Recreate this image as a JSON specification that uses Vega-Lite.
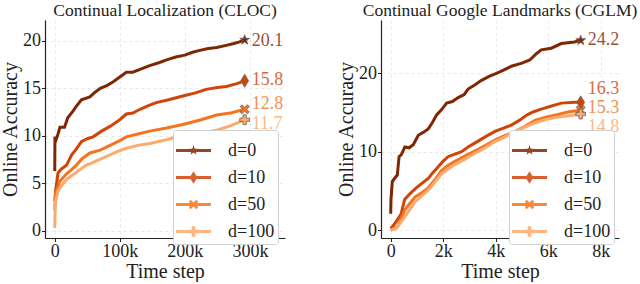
{
  "$schema": "https://vega.github.io/schema/vega-lite/v6.json",
  "padding": {"left": 0, "top": 1, "right": 0, "bottom": 0},
  "datasets": {
    "cloc": [
      {"d": "0", "t": 0, "acc": 6.3}, {"d": "0", "t": 300, "acc": 9.9}, {"d": "0", "t": 2000, "acc": 9.6}, {"d": "0", "t": 5000, "acc": 10.2}, {"d": "0", "t": 8000, "acc": 10.9}, {"d": "0", "t": 15000, "acc": 10.9}, {"d": "0", "t": 20000, "acc": 11.9}, {"d": "0", "t": 28000, "acc": 12.6}, {"d": "0", "t": 33000, "acc": 13.1}, {"d": "0", "t": 41000, "acc": 13.8}, {"d": "0", "t": 54000, "acc": 14.1}, {"d": "0", "t": 62000, "acc": 14.6}, {"d": "0", "t": 70000, "acc": 15.0}, {"d": "0", "t": 80000, "acc": 15.3}, {"d": "0", "t": 90000, "acc": 15.7}, {"d": "0", "t": 100000, "acc": 16.2}, {"d": "0", "t": 110000, "acc": 16.7}, {"d": "0", "t": 120000, "acc": 16.7}, {"d": "0", "t": 135000, "acc": 17.1}, {"d": "0", "t": 146000, "acc": 17.4}, {"d": "0", "t": 160000, "acc": 17.7}, {"d": "0", "t": 172000, "acc": 18.0}, {"d": "0", "t": 186000, "acc": 18.3}, {"d": "0", "t": 200000, "acc": 18.5}, {"d": "0", "t": 212000, "acc": 18.8}, {"d": "0", "t": 223000, "acc": 19.0}, {"d": "0", "t": 236000, "acc": 19.2}, {"d": "0", "t": 249000, "acc": 19.3}, {"d": "0", "t": 262000, "acc": 19.5}, {"d": "0", "t": 274000, "acc": 19.7}, {"d": "0", "t": 284000, "acc": 19.9}, {"d": "0", "t": 292000, "acc": 20.1},
      {"d": "10", "t": 0, "acc": 3.1}, {"d": "10", "t": 1500, "acc": 4.3}, {"d": "10", "t": 5000, "acc": 6.1}, {"d": "10", "t": 10000, "acc": 6.5}, {"d": "10", "t": 18000, "acc": 6.9}, {"d": "10", "t": 26000, "acc": 8.0}, {"d": "10", "t": 33000, "acc": 8.6}, {"d": "10", "t": 41000, "acc": 9.4}, {"d": "10", "t": 50000, "acc": 9.7}, {"d": "10", "t": 59000, "acc": 9.9}, {"d": "10", "t": 72000, "acc": 10.5}, {"d": "10", "t": 85000, "acc": 11.0}, {"d": "10", "t": 100000, "acc": 11.7}, {"d": "10", "t": 110000, "acc": 12.3}, {"d": "10", "t": 120000, "acc": 12.4}, {"d": "10", "t": 131000, "acc": 12.8}, {"d": "10", "t": 145000, "acc": 13.2}, {"d": "10", "t": 156000, "acc": 13.5}, {"d": "10", "t": 175000, "acc": 13.8}, {"d": "10", "t": 197000, "acc": 14.2}, {"d": "10", "t": 215000, "acc": 14.5}, {"d": "10", "t": 233000, "acc": 14.9}, {"d": "10", "t": 250000, "acc": 15.1}, {"d": "10", "t": 264000, "acc": 15.2}, {"d": "10", "t": 280000, "acc": 15.5}, {"d": "10", "t": 292000, "acc": 15.8},
      {"d": "50", "t": 0, "acc": 2.2}, {"d": "50", "t": 1500, "acc": 3.9}, {"d": "50", "t": 7700, "acc": 5.2}, {"d": "50", "t": 18000, "acc": 6.0}, {"d": "50", "t": 25000, "acc": 6.4}, {"d": "50", "t": 33000, "acc": 6.9}, {"d": "50", "t": 42000, "acc": 7.6}, {"d": "50", "t": 54000, "acc": 8.2}, {"d": "50", "t": 70000, "acc": 8.5}, {"d": "50", "t": 85000, "acc": 9.0}, {"d": "50", "t": 100000, "acc": 9.5}, {"d": "50", "t": 110000, "acc": 9.9}, {"d": "50", "t": 128000, "acc": 10.2}, {"d": "50", "t": 146000, "acc": 10.5}, {"d": "50", "t": 170000, "acc": 10.8}, {"d": "50", "t": 197000, "acc": 11.2}, {"d": "50", "t": 225000, "acc": 11.7}, {"d": "50", "t": 249000, "acc": 12.2}, {"d": "50", "t": 270000, "acc": 12.4}, {"d": "50", "t": 292000, "acc": 12.8},
      {"d": "100", "t": 0, "acc": 0.3}, {"d": "100", "t": 800, "acc": 3.0}, {"d": "100", "t": 5000, "acc": 4.2}, {"d": "100", "t": 12000, "acc": 4.9}, {"d": "100", "t": 18000, "acc": 5.4}, {"d": "100", "t": 28000, "acc": 5.9}, {"d": "100", "t": 38000, "acc": 6.4}, {"d": "100", "t": 48000, "acc": 6.9}, {"d": "100", "t": 59000, "acc": 7.2}, {"d": "100", "t": 72000, "acc": 7.6}, {"d": "100", "t": 85000, "acc": 8.0}, {"d": "100", "t": 98000, "acc": 8.4}, {"d": "100", "t": 110000, "acc": 8.7}, {"d": "100", "t": 128000, "acc": 9.0}, {"d": "100", "t": 146000, "acc": 9.2}, {"d": "100", "t": 172000, "acc": 9.6}, {"d": "100", "t": 197000, "acc": 10.1}, {"d": "100", "t": 225000, "acc": 10.3}, {"d": "100", "t": 249000, "acc": 10.6}, {"d": "100", "t": 272000, "acc": 11.1}, {"d": "100", "t": 292000, "acc": 11.7}
    ],
    "cglm": [
      {"d": "0", "t": 0, "acc": 2.1}, {"d": "0", "t": 10, "acc": 3.9}, {"d": "0", "t": 60, "acc": 6.2}, {"d": "0", "t": 190, "acc": 6.8}, {"d": "0", "t": 250, "acc": 7.0}, {"d": "0", "t": 320, "acc": 9.4}, {"d": "0", "t": 400, "acc": 9.6}, {"d": "0", "t": 540, "acc": 10.6}, {"d": "0", "t": 700, "acc": 10.5}, {"d": "0", "t": 860, "acc": 10.9}, {"d": "0", "t": 1050, "acc": 12.1}, {"d": "0", "t": 1250, "acc": 12.5}, {"d": "0", "t": 1430, "acc": 12.9}, {"d": "0", "t": 1600, "acc": 13.8}, {"d": "0", "t": 1750, "acc": 14.7}, {"d": "0", "t": 1950, "acc": 15.4}, {"d": "0", "t": 2130, "acc": 16.2}, {"d": "0", "t": 2350, "acc": 16.4}, {"d": "0", "t": 2570, "acc": 16.9}, {"d": "0", "t": 2800, "acc": 17.3}, {"d": "0", "t": 2950, "acc": 18.0}, {"d": "0", "t": 3200, "acc": 18.5}, {"d": "0", "t": 3460, "acc": 19.1}, {"d": "0", "t": 3750, "acc": 19.6}, {"d": "0", "t": 4030, "acc": 20.0}, {"d": "0", "t": 4300, "acc": 20.4}, {"d": "0", "t": 4600, "acc": 20.9}, {"d": "0", "t": 5000, "acc": 21.3}, {"d": "0", "t": 5300, "acc": 21.7}, {"d": "0", "t": 5550, "acc": 22.5}, {"d": "0", "t": 5740, "acc": 23.0}, {"d": "0", "t": 6120, "acc": 23.2}, {"d": "0", "t": 6500, "acc": 23.8}, {"d": "0", "t": 7000, "acc": 24.0}, {"d": "0", "t": 7240, "acc": 24.2},
      {"d": "10", "t": 0, "acc": 0.2}, {"d": "10", "t": 190, "acc": 1.0}, {"d": "10", "t": 400, "acc": 2.1}, {"d": "10", "t": 530, "acc": 3.9}, {"d": "10", "t": 720, "acc": 4.6}, {"d": "10", "t": 970, "acc": 5.4}, {"d": "10", "t": 1200, "acc": 6.0}, {"d": "10", "t": 1430, "acc": 6.6}, {"d": "10", "t": 1600, "acc": 7.3}, {"d": "10", "t": 1810, "acc": 8.1}, {"d": "10", "t": 2000, "acc": 8.8}, {"d": "10", "t": 2200, "acc": 9.4}, {"d": "10", "t": 2450, "acc": 9.7}, {"d": "10", "t": 2700, "acc": 10.0}, {"d": "10", "t": 2950, "acc": 10.6}, {"d": "10", "t": 3200, "acc": 11.1}, {"d": "10", "t": 3600, "acc": 11.9}, {"d": "10", "t": 3970, "acc": 12.6}, {"d": "10", "t": 4300, "acc": 13.0}, {"d": "10", "t": 4600, "acc": 13.4}, {"d": "10", "t": 4900, "acc": 14.0}, {"d": "10", "t": 5200, "acc": 14.7}, {"d": "10", "t": 5450, "acc": 15.1}, {"d": "10", "t": 5700, "acc": 15.4}, {"d": "10", "t": 6100, "acc": 15.8}, {"d": "10", "t": 6500, "acc": 16.2}, {"d": "10", "t": 7000, "acc": 16.3}, {"d": "10", "t": 7240, "acc": 16.3},
      {"d": "50", "t": 0, "acc": 0.0}, {"d": "50", "t": 290, "acc": 0.6}, {"d": "50", "t": 540, "acc": 2.6}, {"d": "50", "t": 920, "acc": 4.2}, {"d": "50", "t": 1200, "acc": 4.8}, {"d": "50", "t": 1430, "acc": 5.4}, {"d": "50", "t": 1700, "acc": 6.5}, {"d": "50", "t": 1940, "acc": 7.6}, {"d": "50", "t": 2150, "acc": 8.2}, {"d": "50", "t": 2400, "acc": 8.7}, {"d": "50", "t": 2800, "acc": 9.4}, {"d": "50", "t": 3200, "acc": 10.1}, {"d": "50", "t": 3600, "acc": 10.8}, {"d": "50", "t": 3970, "acc": 11.5}, {"d": "50", "t": 4300, "acc": 12.0}, {"d": "50", "t": 4700, "acc": 12.5}, {"d": "50", "t": 5100, "acc": 13.2}, {"d": "50", "t": 5500, "acc": 14.0}, {"d": "50", "t": 5900, "acc": 14.4}, {"d": "50", "t": 6300, "acc": 14.7}, {"d": "50", "t": 6800, "acc": 15.1}, {"d": "50", "t": 7240, "acc": 15.3},
      {"d": "100", "t": 0, "acc": 0.0}, {"d": "100", "t": 200, "acc": 0.2}, {"d": "100", "t": 540, "acc": 1.7}, {"d": "100", "t": 920, "acc": 3.6}, {"d": "100", "t": 1430, "acc": 5.1}, {"d": "100", "t": 1940, "acc": 7.2}, {"d": "100", "t": 2400, "acc": 8.3}, {"d": "100", "t": 2800, "acc": 9.0}, {"d": "100", "t": 3200, "acc": 9.8}, {"d": "100", "t": 3600, "acc": 10.5}, {"d": "100", "t": 3970, "acc": 11.3}, {"d": "100", "t": 4300, "acc": 11.8}, {"d": "100", "t": 4700, "acc": 12.5}, {"d": "100", "t": 5100, "acc": 13.1}, {"d": "100", "t": 5500, "acc": 13.7}, {"d": "100", "t": 5900, "acc": 14.1}, {"d": "100", "t": 6300, "acc": 14.4}, {"d": "100", "t": 6800, "acc": 14.6}, {"d": "100", "t": 7240, "acc": 14.8}
    ],
    "clocEnd": [
      {"d": "0", "t": 292000, "acc": 20.1, "labely": 20.0, "label": "20.1"},
      {"d": "10", "t": 292000, "acc": 15.8, "labely": 15.9, "label": "15.8"},
      {"d": "50", "t": 292000, "acc": 12.8, "labely": 13.4, "label": "12.8"},
      {"d": "100", "t": 292000, "acc": 11.7, "labely": 11.3, "label": "11.7"}
    ],
    "cglmEnd": [
      {"d": "0", "t": 7240, "acc": 24.2, "labely": 24.3, "label": "24.2"},
      {"d": "10", "t": 7240, "acc": 16.3, "labely": 18.0, "label": "16.3"},
      {"d": "50", "t": 7240, "acc": 15.3, "labely": 15.6, "label": "15.3"},
      {"d": "100", "t": 7240, "acc": 14.8, "labely": 13.2, "label": "14.8"}
    ]
  },
  "config": {
    "font": "Liberation Serif",
    "view": {"stroke": null},
    "axis": {
      "grid": true, "gridColor": "#e2e2e2", "gridDash": [3, 3], "gridWidth": 0.8,
      "domainColor": "#222", "domainWidth": 1.2, "tickColor": "#222", "tickSize": 3.5,
      "labelFontSize": 18, "titleFontSize": 20, "labelColor": "#222", "titleColor": "#222",
      "titleFontWeight": "normal", "labelPadding": 1
    },
    "axisX": {"titlePadding": 1},
    "axisY": {"titlePadding": 2},
    "title": {"fontSize": 17.5, "fontWeight": "normal", "color": "#222", "offset": 1, "font": "Liberation Serif"},
    "legend": {
      "orient": "none", "legendX": 128, "legendY": 110, "strokeColor": "#d0d0d0", "fillColor": "white",
      "padding": 3, "cornerRadius": 3, "labelFontSize": 18, "labelColor": "#222", "labelFont": "Liberation Serif",
      "symbolSize": 100, "rowPadding": -5.5, "labelOffset": 17
    },
    "point": {"filled": true, "size": 169, "stroke": "#666", "strokeWidth": 0.8, "opacity": 1}
  },
  "spacing": 51,
  "resolve": {"scale": {"color": "independent", "shape": "independent", "x": "independent", "y": "independent"}, "legend": {"color": "independent", "shape": "independent"}},
  "hconcat": [
    {
      "width": 240, "height": 218,
      "title": "Continual Localization (CLOC)",
      "layer": [
        {
          "data": {"name": "cloc"},
          "mark": {"type": "line", "strokeWidth": 3},
          "encoding": {
            "x": {"field": "t", "type": "quantitative", "scale": {"domain": [-15000, 354000], "nice": false, "zero": false}, "axis": {"values": [0, 100000, 200000, 300000], "labelExpr": "datum.value === 0 ? '0' : datum.value / 1000 + 'k'", "title": "Time step"}},
            "y": {"field": "acc", "type": "quantitative", "scale": {"domain": [-0.75, 22.2], "nice": false}, "axis": {"values": [0, 5, 10, 15, 20], "title": "Online Accuracy"}},
            "color": {"field": "d", "type": "nominal", "scale": {"domain": ["0", "10", "50", "100"], "range": ["#7f2704", "#cf4509", "#f5741f", "#fcaa6d"]},
              "legend": {"title": null, "labelExpr": "'d=' + datum.label",
                "encode": {"symbols": {"update": {"size": {"value": 1225}, "x": {"value": 17.5}, "opacity": {"value": 0.85}, "strokeWidth": {"value": 0}}}}}}
          }
        },
        {
          "data": {"name": "clocEnd"},
          "mark": {"type": "point", "opacity": 0, "strokeWidth": 0},
          "encoding": {
            "x": {"field": "t", "type": "quantitative"},
            "y": {"field": "acc", "type": "quantitative"},
            "color": {"field": "d", "type": "nominal",
              "legend": {"title": null, "labelExpr": "'d=' + datum.label",
                "encode": {"symbols": {"update": {"size": {"value": 1225}, "x": {"value": 17.5}, "opacity": {"value": 0.85}, "strokeWidth": {"value": 0}}}}}},
            "shape": {"field": "d", "type": "nominal", "scale": {"domain": ["0", "10", "50", "100"], "range": [
              "M-1,-0.09L1,-0.09L1,0.09L-1,0.09ZM0,-0.3L0.071,-0.098L0.285,-0.093L0.114,0.037L0.176,0.243L0,0.12L-0.176,0.243L-0.114,0.037L-0.285,-0.093L-0.071,-0.098Z",
              "M-1,-0.09L1,-0.09L1,0.09L-1,0.09ZM0,-0.36L0.22,0L0,0.36L-0.22,0Z",
              "M-1,-0.09L1,-0.09L1,0.09L-1,0.09ZM-0.27,-0.162L-0.162,-0.27L0,-0.108L0.162,-0.27L0.27,-0.162L0.108,0L0.27,0.162L0.162,0.27L0,0.108L-0.162,0.27L-0.27,0.162L-0.108,0Z",
              "M-1,-0.09L1,-0.09L1,0.09L-1,0.09ZM-0.105,-0.3L0.105,-0.3L0.105,-0.105L0.3,-0.105L0.3,0.105L0.105,0.105L0.105,0.3L-0.105,0.3L-0.105,0.105L-0.3,0.105L-0.3,-0.105L-0.105,-0.105Z"]}}
          }
        },
        {
          "data": {"name": "clocEnd"}, "transform": [{"filter": "datum.d === '0'"}],
          "mark": {"type": "point", "shape": "M0,-0.8L0.19,-0.26L0.76,-0.25L0.3,0.1L0.47,0.65L0,0.32L-0.47,0.65L-0.3,0.1L-0.76,-0.25L-0.19,-0.26Z"},
          "encoding": {"x": {"field": "t", "type": "quantitative"}, "y": {"field": "acc", "type": "quantitative"}, "color": {"field": "d", "type": "nominal"}}
        },
        {
          "data": {"name": "clocEnd"}, "transform": [{"filter": "datum.d === '10'"}],
          "mark": {"type": "point", "shape": "M0,-1L0.6,0L0,1L-0.6,0Z"},
          "encoding": {"x": {"field": "t", "type": "quantitative"}, "y": {"field": "acc", "type": "quantitative"}, "color": {"field": "d", "type": "nominal"}}
        },
        {
          "data": {"name": "clocEnd"}, "transform": [{"filter": "datum.d === '50'"}],
          "mark": {"type": "point", "shape": "M-0.7,-0.42L-0.42,-0.7L0,-0.28L0.42,-0.7L0.7,-0.42L0.28,0L0.7,0.42L0.42,0.7L0,0.28L-0.42,0.7L-0.7,0.42L-0.28,0Z"},
          "encoding": {"x": {"field": "t", "type": "quantitative"}, "y": {"field": "acc", "type": "quantitative"}, "color": {"field": "d", "type": "nominal"}}
        },
        {
          "data": {"name": "clocEnd"}, "transform": [{"filter": "datum.d === '100'"}],
          "mark": {"type": "point", "shape": "M-0.26,-0.75L0.26,-0.75L0.26,-0.26L0.75,-0.26L0.75,0.26L0.26,0.26L0.26,0.75L-0.26,0.75L-0.26,0.26L-0.75,0.26L-0.75,-0.26L-0.26,-0.26Z"},
          "encoding": {"x": {"field": "t", "type": "quantitative"}, "y": {"field": "acc", "type": "quantitative"}, "color": {"field": "d", "type": "nominal"}}
        },
        {
          "data": {"name": "clocEnd"},
          "mark": {"type": "text", "align": "left", "baseline": "middle", "dx": 7, "fontSize": 18, "opacity": 0.8},
          "encoding": {
            "x": {"field": "t", "type": "quantitative"},
            "y": {"field": "labely", "type": "quantitative"},
            "text": {"field": "label"},
            "color": {"field": "d", "type": "nominal"}
          }
        }
      ]
    },
    {
      "width": 238, "height": 218,
      "title": "Continual Google Landmarks (CGLM)",
      "layer": [
        {
          "data": {"name": "cglm"},
          "mark": {"type": "line", "strokeWidth": 3},
          "encoding": {
            "x": {"field": "t", "type": "quantitative", "scale": {"domain": [-370, 8700], "nice": false, "zero": false}, "axis": {"values": [0, 2000, 4000, 6000, 8000], "labelExpr": "datum.value === 0 ? '0' : datum.value / 1000 + 'k'", "title": "Time step"}},
            "y": {"field": "acc", "type": "quantitative", "scale": {"domain": [-1.0, 26.8], "nice": false}, "axis": {"values": [0, 10, 20], "title": "Online Accuracy"}},
            "color": {"field": "d", "type": "nominal", "scale": {"domain": ["0", "10", "50", "100"], "range": ["#7f2704", "#cf4509", "#f5741f", "#fcaa6d"]},
              "legend": {"title": null, "labelExpr": "'d=' + datum.label",
                "encode": {"symbols": {"update": {"size": {"value": 1225}, "x": {"value": 17.5}, "opacity": {"value": 0.85}, "strokeWidth": {"value": 0}}}}}}
          }
        },
        {
          "data": {"name": "cglmEnd"},
          "mark": {"type": "point", "opacity": 0, "strokeWidth": 0},
          "encoding": {
            "x": {"field": "t", "type": "quantitative"},
            "y": {"field": "acc", "type": "quantitative"},
            "color": {"field": "d", "type": "nominal",
              "legend": {"title": null, "labelExpr": "'d=' + datum.label",
                "encode": {"symbols": {"update": {"size": {"value": 1225}, "x": {"value": 17.5}, "opacity": {"value": 0.85}, "strokeWidth": {"value": 0}}}}}},
            "shape": {"field": "d", "type": "nominal", "scale": {"domain": ["0", "10", "50", "100"], "range": [
              "M-1,-0.09L1,-0.09L1,0.09L-1,0.09ZM0,-0.3L0.071,-0.098L0.285,-0.093L0.114,0.037L0.176,0.243L0,0.12L-0.176,0.243L-0.114,0.037L-0.285,-0.093L-0.071,-0.098Z",
              "M-1,-0.09L1,-0.09L1,0.09L-1,0.09ZM0,-0.36L0.22,0L0,0.36L-0.22,0Z",
              "M-1,-0.09L1,-0.09L1,0.09L-1,0.09ZM-0.27,-0.162L-0.162,-0.27L0,-0.108L0.162,-0.27L0.27,-0.162L0.108,0L0.27,0.162L0.162,0.27L0,0.108L-0.162,0.27L-0.27,0.162L-0.108,0Z",
              "M-1,-0.09L1,-0.09L1,0.09L-1,0.09ZM-0.105,-0.3L0.105,-0.3L0.105,-0.105L0.3,-0.105L0.3,0.105L0.105,0.105L0.105,0.3L-0.105,0.3L-0.105,0.105L-0.3,0.105L-0.3,-0.105L-0.105,-0.105Z"]}}
          }
        },
        {
          "data": {"name": "cglmEnd"}, "transform": [{"filter": "datum.d === '0'"}],
          "mark": {"type": "point", "shape": "M0,-0.8L0.19,-0.26L0.76,-0.25L0.3,0.1L0.47,0.65L0,0.32L-0.47,0.65L-0.3,0.1L-0.76,-0.25L-0.19,-0.26Z"},
          "encoding": {"x": {"field": "t", "type": "quantitative"}, "y": {"field": "acc", "type": "quantitative"}, "color": {"field": "d", "type": "nominal"}}
        },
        {
          "data": {"name": "cglmEnd"}, "transform": [{"filter": "datum.d === '10'"}],
          "mark": {"type": "point", "shape": "M0,-1L0.6,0L0,1L-0.6,0Z"},
          "encoding": {"x": {"field": "t", "type": "quantitative"}, "y": {"field": "acc", "type": "quantitative"}, "color": {"field": "d", "type": "nominal"}}
        },
        {
          "data": {"name": "cglmEnd"}, "transform": [{"filter": "datum.d === '50'"}],
          "mark": {"type": "point", "shape": "M-0.7,-0.42L-0.42,-0.7L0,-0.28L0.42,-0.7L0.7,-0.42L0.28,0L0.7,0.42L0.42,0.7L0,0.28L-0.42,0.7L-0.7,0.42L-0.28,0Z"},
          "encoding": {"x": {"field": "t", "type": "quantitative"}, "y": {"field": "acc", "type": "quantitative"}, "color": {"field": "d", "type": "nominal"}}
        },
        {
          "data": {"name": "cglmEnd"}, "transform": [{"filter": "datum.d === '100'"}],
          "mark": {"type": "point", "shape": "M-0.26,-0.75L0.26,-0.75L0.26,-0.26L0.75,-0.26L0.75,0.26L0.26,0.26L0.26,0.75L-0.26,0.75L-0.26,0.26L-0.75,0.26L-0.75,-0.26L-0.26,-0.26Z"},
          "encoding": {"x": {"field": "t", "type": "quantitative"}, "y": {"field": "acc", "type": "quantitative"}, "color": {"field": "d", "type": "nominal"}}
        },
        {
          "data": {"name": "cglmEnd"},
          "mark": {"type": "text", "align": "left", "baseline": "middle", "dx": 7, "fontSize": 18, "opacity": 0.8},
          "encoding": {
            "x": {"field": "t", "type": "quantitative"},
            "y": {"field": "labely", "type": "quantitative"},
            "text": {"field": "label"},
            "color": {"field": "d", "type": "nominal"}
          }
        }
      ]
    }
  ]
}
